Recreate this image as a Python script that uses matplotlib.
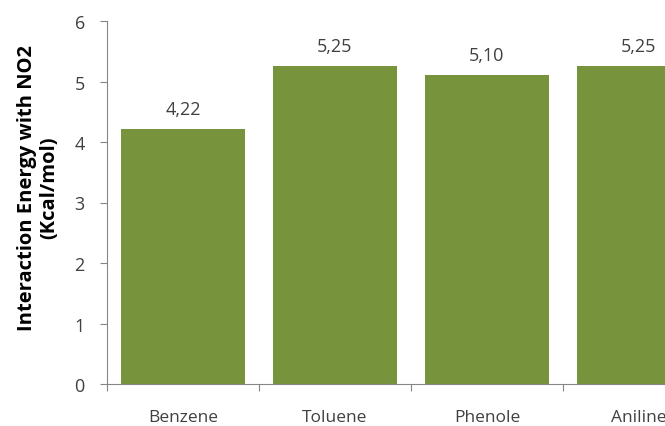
import numpy as np
import matplotlib
matplotlib.use("Agg")
import matplotlib.pyplot as plt

compounds = ["Benzene", "Toluene", "Phenole", "Aniline"]
energies = [4.22, 5.25, 5.10, 5.25]
value_labels = ["4,22", "5,25", "5,10", "5,25"]
yticks = [0, 1, 2, 3, 4, 5, 6]

plt.rcParams['font.family'] = ['Open Sans', 'DejaVu Sans']
txt = "#404040"
axis_col = "#868686"

fig = plt.figure(figsize=(6.65, 4.27), dpi=100)
# axes run past the right edge on purpose (last bar is clipped)
ax = fig.add_axes([107/665, 42/427, 608/665, 363/427])

x = np.arange(len(compounds))
ax.bar(x, energies, width=0.82, color="#77933C")

for xi, v, lab in zip(x, energies, value_labels):
    ax.annotate(lab, (xi, v), xytext=(0, 8), textcoords="offset points",
                ha="center", va="bottom", fontsize=13, color=txt)

ax.set_xlim(-0.5, 3.5)
ax.set_ylim(0, 6)
ax.set_yticks(yticks)
ax.set_yticklabels([str(t) for t in yticks], fontsize=13, color=txt)
ax.tick_params(axis="y", length=5, width=0.8, color=axis_col, pad=11)

# boundary ticks on x, labels at category centres
ax.set_xticks(np.arange(-0.5, 4.0, 1.0))
ax.set_xticklabels([])
ax.tick_params(axis="x", which="major", length=5, width=0.8, color=axis_col)
ax.set_xticks(x, labels=compounds, minor=True)
ax.tick_params(axis="x", which="minor", length=0, pad=18, labelsize=12.5,
               labelcolor=txt)

for s in ["top", "right"]:
    ax.spines[s].set_visible(False)
for s in ["left", "bottom"]:
    ax.spines[s].set_color(axis_col)
    ax.spines[s].set_linewidth(0.8)

fig.text(38/665, 1 - 188/427, "Interaction Energy with NO2\n(Kcal/mol)",
         rotation=90, ha="center", va="center", fontsize=14.5,
         fontweight="bold", color="black", linespacing=1.1)

fig.savefig("out.png", dpi=100)
